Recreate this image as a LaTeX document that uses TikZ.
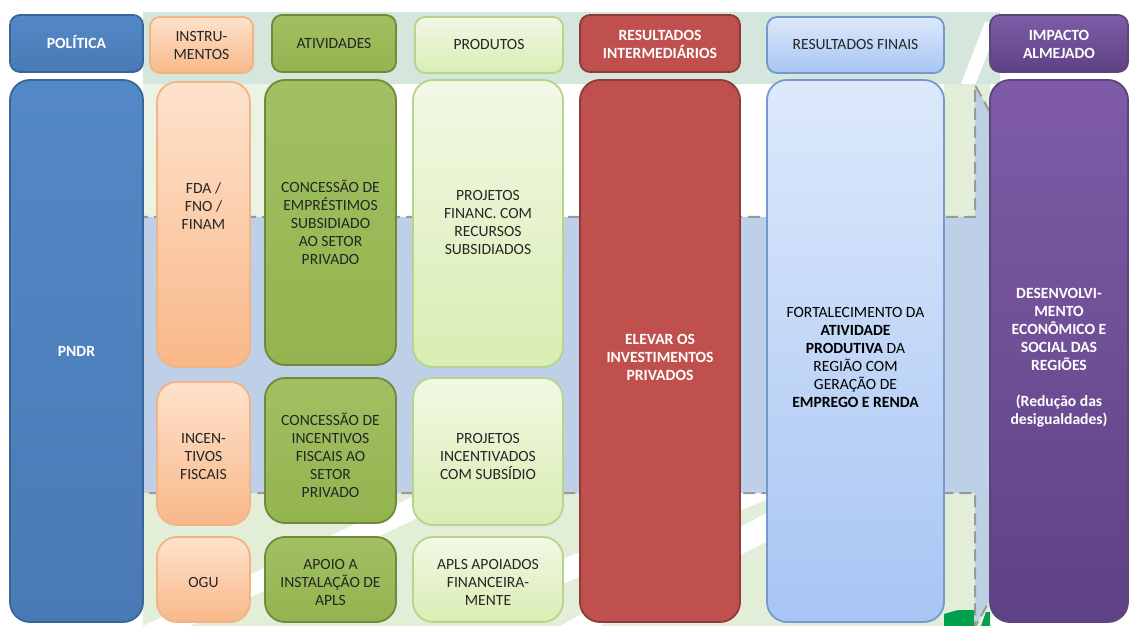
\documentclass[tikz,border=0pt]{standalone}
\usepackage{fontspec}
\setmainfont{Carlito}
\usetikzlibrary{fit}
\definecolor{blueT}{HTML}{5388C6}
\definecolor{blueB}{HTML}{4A7AB6}
\definecolor{blueD}{HTML}{3A6598}
\definecolor{peachT}{HTML}{FDE2CC}
\definecolor{peachB}{HTML}{F9B889}
\definecolor{peachD}{HTML}{F2B385}
\definecolor{grnT}{HTML}{A2C062}
\definecolor{grnB}{HTML}{93B44F}
\definecolor{grnD}{HTML}{6E8A3A}
\definecolor{lgrT}{HTML}{F2F8E5}
\definecolor{lgrB}{HTML}{D9EDB3}
\definecolor{lgrD}{HTML}{B8D48B}
\definecolor{redF}{HTML}{C0504D}
\definecolor{redD}{HTML}{8E3A38}
\definecolor{lbT}{HTML}{DDE9FB}
\definecolor{lbB}{HTML}{A7C5F3}
\definecolor{lbD}{HTML}{7399CF}
\definecolor{purT}{HTML}{7F5BA7}
\definecolor{purB}{HTML}{5E4285}
\definecolor{purD}{HTML}{5C477B}
\definecolor{txt}{HTML}{262626}
\definecolor{bgTop}{HTML}{D5E6DC}
\definecolor{bgLow}{HTML}{E3EED9}
\definecolor{arrowBlue}{HTML}{B9CDE7}
\definecolor{darkGreen}{HTML}{00A04C}
\newcommand\dfont{\fontsize{7.8}{9}\selectfont}
\begin{document}
\begin{tikzpicture}[x=0.5pt,y=-0.5pt,
  box/.style={inner sep=0pt, line width=0.9pt, rounded corners=10pt},
  hdr/.style={box, rounded corners=5pt},
  tw/.style={inner sep=0pt, align=center, font=\dfont\bfseries, text=white},
  td/.style={inner sep=0pt, align=center, font=\dfont, text=txt},
  cblue/.style={draw=blueD, top color=blueT, bottom color=blueB},
  cpeach/.style={draw=peachD, top color=peachT, bottom color=peachB},
  cgreen/.style={draw=grnD, top color=grnT, bottom color=grnB},
  clgreen/.style={draw=lgrD, top color=lgrT, bottom color=lgrB},
  cred/.style={draw=redD, fill=redF},
  clblue/.style={draw=lbD, top color=lbT, bottom color=lbB},
  cpurple/.style={draw=purD, top color=purT, bottom color=purB},
  bigarrow/.style={fill=arrowBlue, fill opacity=0.92, draw=gray!80, draw opacity=1, line width=1pt, dash pattern=on 6pt off 3pt}
]
% canvas
\fill[white] (0,0) rectangle (1131,626);
\useasboundingbox (0,0) rectangle (1131,626);
% light green background pieces
\fill[bgTop] (143,12) rectangle (1000,84);
\fill[white] (944,128) -- (985,22) -- (1000,22) -- (958,128) -- cycle;
\fill[bgLow!70] (143,84) rectangle (300,217);
\fill[bgLow] (944,84) rectangle (990,217);
\fill[bgLow] (143,493) rectangle (990,626);
\fill[white] (143,626) -- (420,493) -- (470,493) -- (190,626) -- cycle;
\fill[white] (560,626) -- (790,500) -- (790,530) -- (600,626) -- cycle;
\fill[white] (560,560) -- (790,470) -- (790,490) -- (560,585) -- cycle;
% big blue arrow
\draw[bigarrow] (100,217) -- (975,217) -- (975,85) -- (1125,356) -- (975,627) -- (975,493) -- (100,493) -- cycle;
% dark green fragment
\fill[darkGreen] (944,626) -- (944,614) -- (958,610) -- (974,610) -- (974,626) -- cycle;
\fill[darkGreen] (981,626) -- (986,612) -- (990,612) -- (990,626) -- cycle;
% header row
\node[hdr, cblue,   fit={(10,15)(143,72)},   label={[tw, yshift=0.5pt]center:POLÍTICA}] (pol) {};
\node[hdr, cpeach,  fit={(150,17)(253,73)},  label={[td, yshift=0pt]center:{INSTRU-\\MENTOS}}] (ins) {};
\node[hdr, cgreen,  fit={(272,15)(396,72)},  label={[td, yshift=0pt]center:ATIVIDADES}] (ati) {};
\node[hdr, clgreen, fit={(415,17)(563,73)},  label={[td, yshift=0.5pt]center:PRODUTOS}] (pro) {};
\node[hdr, cred,    fit={(580,15)(740,72)},  label={[tw, yshift=-0.5pt]center:{RESULTADOS\\INTERMEDIÁRIOS}}] (ri) {};
\node[hdr, clblue,  fit={(767,17)(944,73)},  label={[td, yshift=0.5pt]center:{RESULTADOS FINAIS}}] (rf) {};
\node[hdr, cpurple, fit={(990,15)(1128,72)}, label={[tw, yshift=-0.5pt]center:{IMPACTO\\ALMEJADO}}] (imp) {};
% body
\node[box, cblue,   fit={(10,80)(143,622)},   label={[tw, yshift=0pt]center:PNDR}] (pndr) {};
\node[box, cpeach,  fit={(157,82)(250,367)},  label={[td, yshift=9.25pt]center:{FDA /\\FNO /\\FINAM}}] (fda) {};
\node[box, cgreen,  fit={(265,80)(396,365)},  label={[td, yshift=0pt]center:{CONCESSÃO DE\\EMPRÉSTIMOS\\SUBSIDIADO\\AO SETOR\\PRIVADO}}] (cemp) {};
\node[box, clgreen, fit={(413,80)(563,367)},  label={[td, yshift=0.5pt]center:{PROJETOS\\FINANC. COM\\RECURSOS\\SUBSIDIADOS}}] (pfin) {};
\node[box, cpeach,  fit={(157,382)(250,525)}, label={[td, yshift=-1.5pt]center:{INCEN-\\TIVOS\\FISCAIS}}] (inc) {};
\node[box, cgreen,  fit={(265,378)(396,523)}, label={[td, yshift=-2.5pt]center:{CONCESSÃO DE\\INCENTIVOS\\FISCAIS AO\\SETOR\\PRIVADO}}] (cinc) {};
\node[box, clgreen, fit={(413,378)(563,525)}, label={[td, yshift=-2.5pt]center:{PROJETOS\\INCENTIVADOS\\COM SUBSÍDIO}}] (pinc) {};
\node[box, cpeach,  fit={(157,537)(250,622)}, label={[td, yshift=-1.5pt]center:OGU}] (ogu) {};
\node[box, cgreen,  fit={(265,537)(396,622)}, label={[td, yshift=-1.5pt]center:{APOIO A\\INSTALAÇÃO DE\\APLS}}] (apoio) {};
\node[box, clgreen, fit={(413,537)(563,622)}, label={[td, yshift=-1.5pt]center:{APLS APOIADOS\\FINANCEIRA-\\MENTE}}] (apls) {};
\node[box, cred,    fit={(580,80)(740,622)},  label={[tw, yshift=-3pt]center:{ELEVAR OS\\INVESTIMENTOS\\PRIVADOS}}] (elev) {};
\node[box, clblue,  fit={(767,80)(944,622)},  label={[td, text=black, yshift=-3pt]center:{FORTALECIMENTO DA\\\textbf{ATIVIDADE}\\\textbf{PRODUTIVA} DA\\REGIÃO COM\\GERAÇÃO DE\\\textbf{EMPREGO E RENDA}}}] (fort) {};
\node[box, cpurple, fit={(990,80)(1128,622)}, label={[tw, yshift=-3.5pt]center:{DESENVOLVI-\\MENTO\\ECONÔMICO E\\SOCIAL DAS\\REGIÕES\\[9pt](Redução das\\desigualdades)}}] (des) {};
\end{tikzpicture}
\end{document}
